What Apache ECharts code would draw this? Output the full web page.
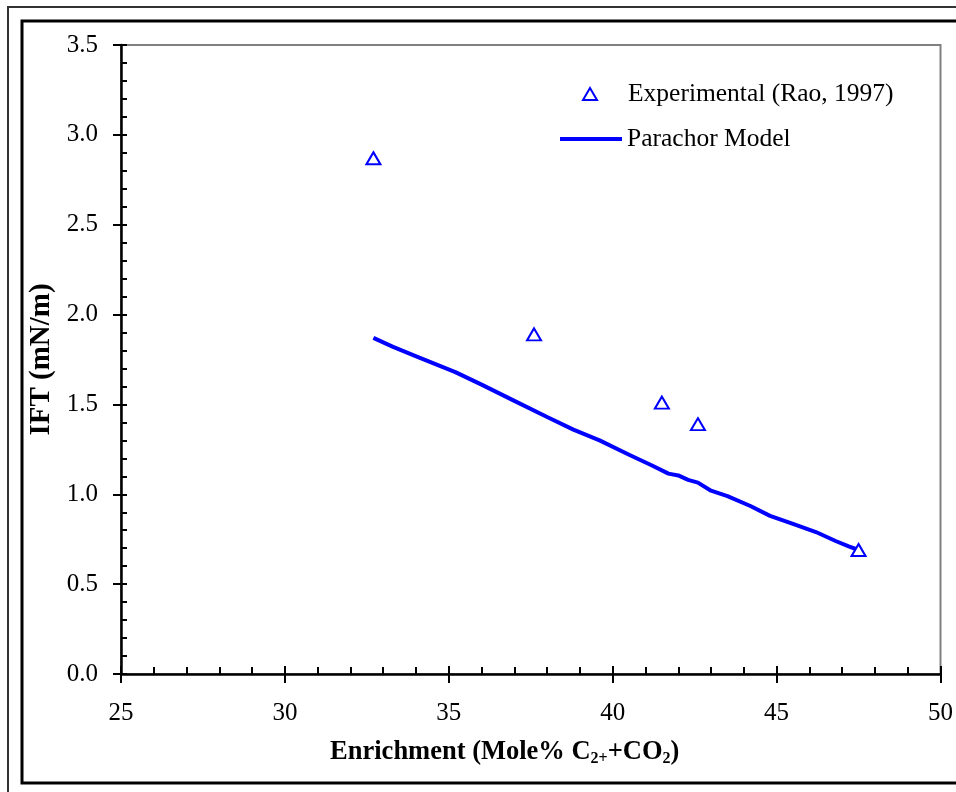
<!DOCTYPE html>
<html>
<head>
<meta charset="utf-8">
<title>IFT vs Enrichment</title>
<script src="https://cdn.jsdelivr.net/npm/echarts@6/dist/echarts.min.js"></script>
<style>
  html, body { margin: 0; padding: 0; background: #fff; }
  #chart { width: 956px; height: 792px; }
</style>
</head>
<body>
<div id="chart"></div>
<script>
// Measured interfacial tension (mN/m) against gas enrichment (mole % C2+ + CO2)
const expEnrichment = [32.7, 37.6, 41.5, 42.6, 47.5];
const expIFT = [2.87, 1.89, 1.51, 1.39, 0.69];

// Parachor model prediction
const modelEnrichment = [32.7, 33.3, 34.1, 35.2, 36.0, 37.0, 38.0, 38.8, 39.6, 40.5, 41.2, 41.7, 42.0, 42.3, 42.6, 43.0, 43.5, 44.2, 44.8, 45.5, 46.2, 46.8, 47.2, 47.5];
const modelIFT = [1.87, 1.82, 1.76, 1.68, 1.61, 1.52, 1.43, 1.36, 1.30, 1.22, 1.16, 1.115, 1.105, 1.08, 1.065, 1.02, 0.99, 0.935, 0.88, 0.835, 0.79, 0.74, 0.71, 0.69];

const seriesNames = ['Experimental (Rao, 1997)', 'Parachor Model'];
const xTitle = 'Enrichment (Mole% C{sub|2+}+CO{sub|2})';
const yTitle = 'IFT (mN/m)';

const FONT = "'Liberation Serif', 'Times New Roman', serif";
const BLUE = '#0000ff';

const chart = echarts.init(document.getElementById('chart'), null, { renderer: 'canvas' });

const baseX = { type: 'value', min: 25, max: 50, interval: 5 };
const baseY = { type: 'value', min: 0, max: 3.5, interval: 0.5 };

chart.setOption({
  animation: false,
  backgroundColor: '#fff',
  graphic: [
    { type: 'rect', silent: true, shape: { x: 8, y: 7, width: 1000, height: 820 },
      style: { fill: 'none', stroke: '#333', lineWidth: 2 } },
    { type: 'rect', silent: true, shape: { x: 22, y: 21, width: 1000, height: 762 },
      style: { fill: 'none', stroke: '#000', lineWidth: 3 } }
  ],
  grid: {
    left: 121, right: 15, top: 45, bottom: 118,
    show: true, borderColor: '#808080', borderWidth: 2, backgroundColor: 'transparent'
  },
  legend: [
    {
      data: [seriesNames[0]], left: 582, top: 81, padding: 0, selectedMode: false,
      itemWidth: 14, itemHeight: 12,
      textStyle: { fontFamily: FONT, fontSize: 25.5, color: '#000', lineHeight: 24, padding: [0, 0, 0, 26] }
    },
    {
      data: [{ name: seriesNames[1], icon: 'rect' }], left: 560, top: 126, padding: 0, selectedMode: false,
      itemWidth: 62, itemHeight: 4,
      textStyle: { fontFamily: FONT, fontSize: 25.5, color: '#000', lineHeight: 24 }
    }
  ],
  xAxis: [
    Object.assign({}, baseX, {
      name: xTitle, nameLocation: 'middle', nameGap: 63,
      nameTextStyle: {
        fontFamily: FONT, fontSize: 26.5, fontWeight: 'bold', color: '#000', lineHeight: 30,
        padding: [0, 52, 0, 0],
        rich: {
          sub: { fontFamily: FONT, fontSize: 16, fontWeight: 'bold', color: '#000', lineHeight: 12, verticalAlign: 'bottom' }
        }
      },
      axisLine: { show: true, onZero: false, lineStyle: { color: '#000', width: 2.5 } },
      axisTick: { show: true, inside: true, length: 8, lineStyle: { color: '#000', width: 2 } },
      minorTick: { show: true, splitNumber: 5, length: 7, lineStyle: { color: '#000', width: 2 } },
      splitLine: { show: false },
      axisLabel: { fontFamily: FONT, fontSize: 25, color: '#000', margin: 27 }
    }),
    Object.assign({}, baseX, {
      position: 'bottom', offset: 0,
      axisLine: { show: false },
      axisTick: { show: true, inside: false, length: 9, lineStyle: { color: '#000', width: 2 } },
      axisLabel: { show: false },
      splitLine: { show: false }
    })
  ],
  yAxis: [
    Object.assign({}, baseY, {
      name: yTitle, nameLocation: 'middle', nameGap: 60,
      nameTextStyle: { fontFamily: FONT, fontSize: 29, fontWeight: 'bold', color: '#000' },
      axisLine: { show: true, onZero: false, lineStyle: { color: '#000', width: 2.5 } },
      axisTick: { show: true, inside: true, length: 6, lineStyle: { color: '#000', width: 2 } },
      minorTick: { show: true, splitNumber: 5, length: 6, lineStyle: { color: '#000', width: 2 } },
      splitLine: { show: false },
      axisLabel: { fontFamily: FONT, fontSize: 25, color: '#000', margin: 23,
        formatter: v => v.toFixed(1) }
    }),
    Object.assign({}, baseY, {
      position: 'left', offset: 0,
      axisLine: { show: false },
      axisTick: { show: true, inside: false, length: 8, lineStyle: { color: '#000', width: 2 } },
      axisLabel: { show: false },
      splitLine: { show: false }
    })
  ],
  series: [
    {
      name: seriesNames[1], type: 'line', xAxisIndex: 0, yAxisIndex: 0,
      data: modelEnrichment.map((x, i) => [x, modelIFT[i]]),
      showSymbol: false, symbol: 'none', smooth: false,
      lineStyle: { color: BLUE, width: 4 }, itemStyle: { color: BLUE },
      z: 2
    },
    {
      name: seriesNames[0], type: 'scatter', xAxisIndex: 0, yAxisIndex: 0,
      data: expEnrichment.map((x, i) => [x, expIFT[i]]),
      symbol: 'triangle', symbolSize: [14, 12],
      itemStyle: { color: '#fff', borderColor: BLUE, borderWidth: 2, opacity: 1 },
      z: 3
    }
  ]
});
</script>
</body>
</html>
